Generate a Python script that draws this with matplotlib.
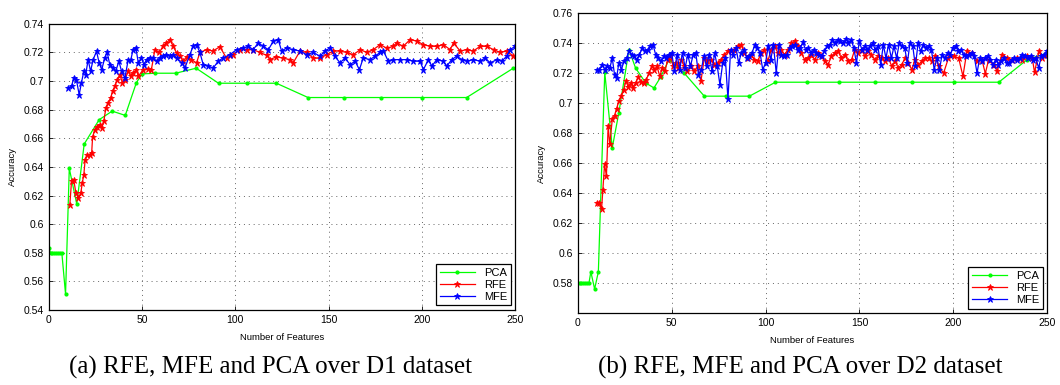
import matplotlib.pyplot as plt

# ---- D1 dataset ----
d1_pca_x = [0, 1, 2, 3, 4, 5, 6, 7, 9, 11, 15, 19, 27, 34, 41, 47, 50, 57, 68, 79, 91, 106, 122, 139, 158, 178, 200, 224, 249]
d1_pca_y = [0.583, 0.580, 0.580, 0.580, 0.580, 0.580, 0.580, 0.580, 0.551, 0.639, 0.614, 0.656, 0.673, 0.679, 0.676,
            0.699, 0.705, 0.7055, 0.7055, 0.709, 0.6985, 0.6985, 0.6985, 0.6885, 0.6885, 0.6885, 0.6885, 0.6885, 0.709]

d1_rfe_x = [11.3, 12.2, 13.4, 14.5, 15.9, 17.2, 18, 18.8, 19.5, 20.6, 22, 23, 23.5, 24.7, 26, 27.4, 28.3, 29.5, 30.6,
            31.8, 33.1, 34.2, 35.4, 36.7, 38.1, 39.5, 40.8, 42.6, 44, 45.2, 47, 48, 50.6, 53.3, 55, 56.9, 59.2, 61.3,
            63.1, 64.9, 66.7, 68.5, 70.3, 72, 73.9, 76.5, 79.2, 81, 84.6, 88, 91.7, 95.3, 98.9, 102.5, 106, 109.6,
            113.2, 116.8, 118.6, 122, 125.7, 129.3, 131, 134.7, 138.2, 141.8, 145.4, 149, 152.5, 156.1, 159.7, 163.3,
            167, 170.4, 174, 177.6, 181.2, 184.7, 186.5, 190, 193.7, 197.2, 200.8, 204.4, 208, 211.5, 215.1, 217,
            220.5, 224, 227.6, 231.2, 234.8, 238.4, 242, 245.5, 249]
d1_rfe_y = [0.6135, 0.630, 0.631, 0.622, 0.618, 0.622, 0.629, 0.6345, 0.645, 0.6485, 0.6485, 0.6497, 0.661, 0.666,
            0.668, 0.6695, 0.667, 0.672, 0.681, 0.6847, 0.688, 0.6928, 0.6963, 0.701, 0.7045, 0.6987, 0.701, 0.7068,
            0.7033, 0.7057, 0.708, 0.7033, 0.708, 0.7085, 0.708, 0.722, 0.720, 0.7243, 0.7267, 0.729, 0.7243, 0.7197,
            0.7174, 0.7139, 0.717, 0.715, 0.7127, 0.720, 0.722, 0.721, 0.724, 0.716, 0.7185, 0.722, 0.722, 0.722,
            0.720, 0.718, 0.715, 0.717, 0.716, 0.715, 0.7127, 0.721, 0.720, 0.716, 0.716, 0.7185, 0.721, 0.721, 0.720,
            0.7185, 0.722, 0.720, 0.722, 0.7255, 0.723, 0.7243, 0.7267, 0.7243, 0.729, 0.728, 0.7255, 0.7243, 0.7243,
            0.7255, 0.722, 0.7267, 0.721, 0.722, 0.721, 0.7243, 0.7243, 0.722, 0.720, 0.721, 0.7174]

d1_mfe_x = [10.4, 12.2, 13.4, 14.8, 16.3, 17.5, 18.8, 19.8, 21.1, 22.4, 23.8, 25.6, 27, 28.4, 30, 31.3, 32.7, 34.5,
            35.9, 37.6, 39, 40.8, 42.6, 44, 45.2, 46.7, 48, 49.7, 51, 52.4, 54.2, 56, 57.8, 59.5, 61.3, 63.1, 64.9,
            66.7, 68.5, 71.2, 73, 75.6, 77.4, 79.2, 81, 82.8, 85.5, 88.2, 90.8, 93.5, 97.1, 100.7, 104.3, 107, 109.6,
            112.3, 115, 117.7, 120.4, 123, 124.8, 127.5, 131, 134.7, 138.2, 141.8, 145.4, 148, 150.8, 153.4, 156.1,
            158.8, 161.5, 164.2, 166.5, 168.6, 172.2, 174.9, 177.6, 179.4, 182, 184.7, 188.3, 191.9, 195.5, 199,
            200.8, 203.5, 205.3, 208, 211.5, 213.3, 216, 218.7, 221.4, 224, 227.6, 231.2, 233.9, 236.6, 240.2, 242.8,
            245.5, 247.3, 250]
d1_mfe_y = [0.6952, 0.6964, 0.7022, 0.701, 0.6905, 0.6987, 0.7069, 0.7045, 0.715, 0.7069, 0.715, 0.7209, 0.7127,
            0.708, 0.7162, 0.7202, 0.7115, 0.7092, 0.7069, 0.7139, 0.7069, 0.7022, 0.715, 0.715, 0.722, 0.7232,
            0.7127, 0.7162, 0.7115, 0.715, 0.7162, 0.7162, 0.7139, 0.7162, 0.7174, 0.7185, 0.7174, 0.7185, 0.7162,
            0.7127, 0.7092, 0.7185, 0.7243, 0.7255, 0.720, 0.7115, 0.7104, 0.7092, 0.7139, 0.7162, 0.7185, 0.722,
            0.7232, 0.7243, 0.722, 0.7267, 0.7243, 0.722, 0.7279, 0.729, 0.721, 0.7232, 0.722, 0.721, 0.7185, 0.720,
            0.7174, 0.721, 0.7232, 0.7174, 0.7127, 0.7162, 0.7115, 0.7139, 0.708, 0.7162, 0.715, 0.7174, 0.720,
            0.721, 0.7139, 0.715, 0.715, 0.715, 0.7139, 0.7139, 0.708, 0.715, 0.7104, 0.715, 0.7139, 0.7104, 0.715,
            0.7174, 0.715, 0.7139, 0.715, 0.7139, 0.7162, 0.7127, 0.715, 0.7139, 0.7174, 0.722, 0.7243]

# ---- D2 dataset ----
d2_pca_x = [0, 1, 2, 3, 4, 5, 6, 7, 9, 11, 14.4, 18.4, 21.9, 27.3, 30.8, 36.2, 40.6, 44.2, 48.6, 56.7, 67.4, 78.9,
            91.4, 105.3, 122, 139, 158.2, 178, 200.1, 224.2, 239.3, 250]
d2_pca_y = [0.58, 0.58, 0.58, 0.58, 0.58, 0.58, 0.58, 0.5875, 0.576, 0.5875, 0.7205, 0.6702, 0.6935, 0.7356, 0.7234,
            0.7134, 0.7101, 0.7174, 0.729, 0.720, 0.7046, 0.7046, 0.7046, 0.7139, 0.7139, 0.7139, 0.7139, 0.7139,
            0.7139, 0.7139, 0.729, 0.7334]

d2_rfe_x = [10.3, 11.6, 12.7, 13.4, 14.3, 15.3, 16.2, 17.1, 18.4, 19.6, 20.7, 21.9, 23.2, 24.4, 25.7, 26.9, 28.2,
            29.4, 30.8, 32.3, 33.7, 35.1, 36.5, 38, 39.4, 40.8, 42.2, 43.7, 45.1, 46.5, 47.9, 49.4, 50.8, 52.2, 53.6,
            55.1, 56.7, 58.4, 60.2, 62, 63.8, 65.6, 67.4, 69.1, 70.9, 72.7, 74.5, 76.3, 78, 79.8, 81.6, 83.4, 85.2,
            87, 88.7, 90.5, 92.3, 94.1, 95.9, 97.6, 99.4, 101.2, 103, 104.8, 106.6, 108.3, 110.1, 111.9, 113.7,
            115.5, 117.3, 119, 120.8, 122.6, 124.4, 126.2, 128, 129.7, 131.5, 133.3, 135.1, 136.9, 138.6, 140.4,
            142.2, 144, 145.8, 147.5, 149.3, 151.1, 152.9, 154.7, 156.4, 158.2, 160, 161.8, 163.6, 165.4, 167.2,
            168.9, 170.7, 172.5, 174.3, 176.1, 177.8, 179.6, 181.4, 183.2, 185, 186.8, 188.5, 190.3, 192.1, 194.8,
            197.4, 200.1, 202.8, 205.1, 207.2, 209.9, 212.6, 215.2, 217, 218.8, 221.5, 223.3, 225.9, 228.6, 231.3,
            234, 236.6, 239.3, 242, 243.2, 245.6, 247.4, 249.6]
d2_rfe_y = [0.6332, 0.6332, 0.6292, 0.642, 0.6591, 0.6514, 0.6846, 0.6724, 0.6891, 0.6917, 0.6962, 0.7013, 0.7046,
            0.709, 0.7146, 0.7108, 0.7134, 0.7101, 0.7134, 0.7174, 0.7139, 0.7134, 0.7157, 0.720, 0.7245, 0.7223,
            0.7245, 0.7179, 0.7234, 0.7212, 0.729, 0.7312, 0.7245, 0.7267, 0.7234, 0.729, 0.7245, 0.7212, 0.7245,
            0.7212, 0.7245, 0.7145, 0.730, 0.7279, 0.729, 0.7256, 0.7267, 0.729, 0.7323, 0.7345, 0.7345, 0.7356,
            0.7378, 0.7389, 0.7334, 0.730, 0.7323, 0.729, 0.7279, 0.7334, 0.7356, 0.7279, 0.7356, 0.7378, 0.7334,
            0.7356, 0.7323, 0.7356, 0.740, 0.7412, 0.7378, 0.7334, 0.729, 0.7301, 0.7323, 0.729, 0.7334, 0.7312,
            0.7279, 0.7256, 0.7312, 0.7334, 0.7345, 0.730, 0.7323, 0.7279, 0.729, 0.7356, 0.7334, 0.7356, 0.7312,
            0.7345, 0.7323, 0.729, 0.7312, 0.7301, 0.7279, 0.7301, 0.7245, 0.7279, 0.7234, 0.7256, 0.7301, 0.7267,
            0.7223, 0.729, 0.7256, 0.7279, 0.7301, 0.7301, 0.7279, 0.7312, 0.7245, 0.720, 0.7301, 0.7312, 0.7301,
            0.7179, 0.7345, 0.7334, 0.7279, 0.729, 0.7197, 0.729, 0.7256, 0.7212, 0.7323, 0.7301, 0.729, 0.7301,
            0.729, 0.7312, 0.7301, 0.7205, 0.7345, 0.7301, 0.7323]

d2_mfe_x = [10.3, 11.6, 13, 14.4, 15.7, 17.1, 18.4, 19.6, 20.7, 21.9, 23.3, 24.6, 26, 27.3, 28.7, 30.1, 31.5, 32.9,
            34.4, 35.8, 37.2, 38.7, 40.1, 41.5, 42.9, 44.4, 45.8, 47.2, 48.6, 50.1, 51.5, 52.9, 54.3, 55.8, 57.2,
            58.6, 60, 61.5, 62.9, 64.3, 65.8, 67.2, 68.6, 70, 71.5, 72.9, 74.3, 75.7, 77.2, 78.6, 80, 81.4, 82.8,
            84.3, 85.7, 87.1, 88.6, 90, 91.4, 92.8, 94.3, 95.7, 97.1, 98.5, 100, 101.4, 102.8, 104.2, 105.7, 107.1,
            108.5, 109.9, 111.4, 112.8, 114.2, 115.6, 117.1, 118.5, 119.9, 121.3, 122.8, 124.2, 125.6, 127, 128.5,
            129.9, 131.3, 132.7, 134.2, 135.6, 137, 138.4, 139.9, 141.3, 142.7, 144.1, 145.6, 147, 148.4, 149.9,
            151.3, 152.7, 154.1, 155.6, 157, 158.4, 159.8, 161.3, 162.7, 164.1, 165.5, 167, 168.4, 169.8, 171.2,
            172.7, 174.1, 175.5, 176.9, 178.4, 179.8, 181.2, 182.6, 184.1, 185.5, 186.9, 188.3, 189.8, 191.2, 192.6,
            194, 195.5, 196.9, 198.3, 199.7, 201.2, 202.6, 204, 205.4, 206.9, 208.3, 209.7, 211.1, 212.6, 214, 215.4,
            216.8, 218.3, 219.7, 221.1, 222.6, 224, 225.4, 226.8, 228.3, 229.7, 231.1, 232.5, 234, 235.4, 236.8,
            238.2, 239.7, 241.1, 242.5, 243.9, 245.4, 246.8, 248.2, 249.6]
d2_mfe_y = [0.7219, 0.7223, 0.7256, 0.7223, 0.7245, 0.7234, 0.730, 0.719, 0.7168, 0.7267, 0.7223, 0.7279, 0.730,
            0.7345, 0.7323, 0.7312, 0.729, 0.7323, 0.7367, 0.7345, 0.7356, 0.7378, 0.7389, 0.7323, 0.730, 0.7279,
            0.7312, 0.730, 0.7323, 0.7334, 0.7212, 0.7323, 0.7223, 0.7334, 0.7234, 0.7323, 0.7245, 0.7323, 0.7334,
            0.719, 0.7223, 0.7312, 0.7245, 0.7323, 0.7212, 0.7334, 0.7245, 0.7123, 0.7267, 0.730, 0.7024, 0.7356,
            0.7323, 0.7367, 0.7267, 0.7334, 0.7356, 0.730, 0.7312, 0.7334, 0.7389, 0.7367, 0.7334, 0.7223, 0.7267,
            0.7378, 0.729, 0.7389, 0.720, 0.7389, 0.7323, 0.7312, 0.7323, 0.7367, 0.7378, 0.7389, 0.7356, 0.7367,
            0.7405, 0.7356, 0.7367, 0.7334, 0.7356, 0.7334, 0.7323, 0.7312, 0.7345, 0.7378, 0.7389, 0.7423, 0.740,
            0.7423, 0.7412, 0.740, 0.7427, 0.740, 0.7423, 0.7367, 0.7267, 0.7412, 0.7356, 0.7378, 0.7356, 0.7378,
            0.740, 0.7356, 0.7378, 0.7256, 0.7389, 0.730, 0.7389, 0.730, 0.7378, 0.730, 0.740, 0.7378, 0.7367,
            0.7267, 0.740, 0.7378, 0.7245, 0.740, 0.7345, 0.7389, 0.7367, 0.7378, 0.7356, 0.7223, 0.730, 0.7223,
            0.7323, 0.730, 0.7334, 0.7323, 0.7367, 0.7378, 0.7345, 0.7356, 0.7323, 0.7312, 0.7323, 0.7334, 0.7312,
            0.720, 0.730, 0.7279, 0.730, 0.7312, 0.729, 0.7256, 0.729, 0.7256, 0.7279, 0.730, 0.7267, 0.7267, 0.729,
            0.730, 0.729, 0.730, 0.7323, 0.7312, 0.730, 0.7312, 0.729, 0.730, 0.7234, 0.7312, 0.7323, 0.7345]

captions = ["(a) RFE, MFE and PCA over D1 dataset", "(b) RFE, MFE and PCA over D2 dataset"]

plt.rcParams['font.family'] = ['Liberation Sans', 'DejaVu Sans']

fig = plt.figure(figsize=(10.6, 3.85), dpi=100)
ax1 = fig.add_axes([0.046, 0.195, 0.440, 0.743])
ax2 = fig.add_axes([0.545, 0.187, 0.443, 0.779])


def draw(ax, pca, rfe, mfe, ylim, yticks):
    ax.plot(pca[0], pca[1], color=(0, 1, 0), marker='.', markersize=4, linewidth=0.9, label='PCA')
    ax.plot(rfe[0], rfe[1], color='red', marker='*', markersize=5, linewidth=0.9, label='RFE',
            markeredgewidth=0.6)
    ax.plot(mfe[0], mfe[1], color='blue', marker='*', markersize=5, linewidth=0.9, label='MFE',
            markeredgewidth=0.6)
    ax.set_xlim(0, 250)
    ax.set_ylim(*ylim)
    ax.set_xticks([0, 50, 100, 150, 200, 250])
    ax.set_yticks(yticks)
    ax.set_yticklabels([('%.2f' % t).rstrip('0').rstrip('.') for t in yticks])
    ax.tick_params(direction='in', labelsize=7.5, length=3, width=0.6)
    ax.grid(True, linestyle=(0, (1, 4)), linewidth=0.7, color='#666666')
    for s in ax.spines.values():
        s.set_linewidth(0.9)
    ax.set_xlabel('Number of Features', fontsize=6.8, labelpad=6)
    ax.set_ylabel('Accuracy', fontsize=6.8, labelpad=5)
    leg = ax.legend(loc='lower right', fontsize=8, fancybox=False, framealpha=1, edgecolor='black',
                    borderpad=0.3, handlelength=3.2, labelspacing=0.2, borderaxespad=0.4)
    leg.get_frame().set_linewidth(0.9)


draw(ax1, (d1_pca_x, d1_pca_y), (d1_rfe_x, d1_rfe_y), (d1_mfe_x, d1_mfe_y),
     (0.54, 0.74), [0.54, 0.56, 0.58, 0.60, 0.62, 0.64, 0.66, 0.68, 0.70, 0.72, 0.74])
draw(ax2, (d2_pca_x, d2_pca_y), (d2_rfe_x, d2_rfe_y), (d2_mfe_x, d2_mfe_y),
     (0.56, 0.76), [0.58, 0.60, 0.62, 0.64, 0.66, 0.68, 0.70, 0.72, 0.74, 0.76])

fig.text(0.255, 0.03, captions[0], fontsize=18, family='Liberation Serif', ha='center')
fig.text(0.755, 0.03, captions[1], fontsize=18, family='Liberation Serif', ha='center')

fig.savefig('out.png', dpi=100)
